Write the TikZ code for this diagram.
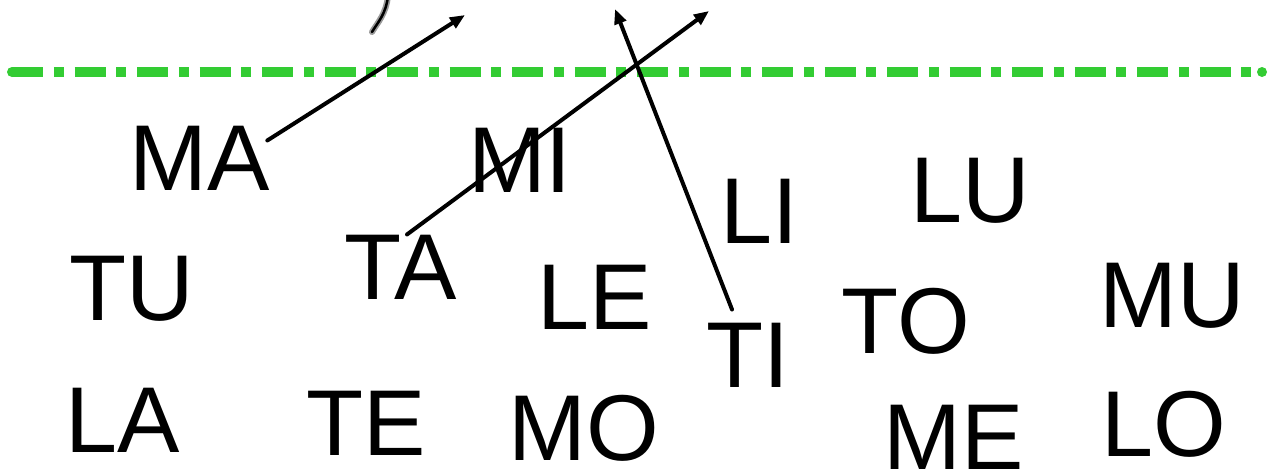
\documentclass[tikz,border=0pt]{standalone}
\usepackage{fontspec}
\setmainfont{Liberation Sans}
\usetikzlibrary{arrows.meta,calc}
\definecolor{guidegreen}{HTML}{33CC33}
\definecolor{haze}{HTML}{9A9A9A}

\begin{document}
\begin{tikzpicture}[x=1pt,y=-1pt,
			syl/.style={inner sep=0pt,anchor=base,font=\fontsize{93.5}{93.5}\selectfont},
			arr/.style={-{Triangle[length=15pt,width=12pt]},line width=4pt,line cap=round},
			guide/.style={guidegreen,line width=10pt,dash pattern=on 31pt off 10.75pt on 10pt off 10.75pt}
			]
			\useasboundingbox (0,0) rectangle (1278,471);
			% dash-dot guide line
			\draw[guide] (12,72) -- (1262,72);
			\fill[guidegreen] (12,72) circle (5pt) (1262,72) circle (5pt);
			% stroke cut off at the top
			\draw[haze,line width=6pt,line cap=round] (388,-4) .. controls (386,14) and (378,22) .. (372,32);
			\draw[line width=2.5pt,line cap=round] (388,-4) .. controls (386,14) and (378,22) .. (372,32);
			% syllables
			\node[syl] (MA) at (200,190) {MA};
			\node[syl] (MI) at (520,192) {MI};
			\node[syl] (LI) at (759,243) {LI};
			\node[syl] (LU) at (970,222) {LU};
			\node[syl] (TU) at (132,320) {TU};
			\node[syl] (TA) at (401,299) {TA};
			\node[syl] (LE) at (595,329) {LE};
			\node[syl] (TI) at (748,387) {TI};
			\node[syl] (TO) at (906,353) {TO};
			\node[syl] (MU) at (1172,327) {MU};
			\node[syl] (LA) at (123,452) {LA};
			\node[syl] (TE) at (366,455) {TE};
			\node[syl] (MO) at (584,460) {MO};
			\node[syl] (ME) at (954,469) {ME};
			\node[syl] (LO) at (1164,456) {LO};
			% arrows
			\coordinate (maTip) at (465,15);
			\coordinate (taTip) at (709,11);
			\coordinate (tiTip) at (615,9);
			\draw[arr] ([xshift=-3pt,yshift=-15pt]MA.north east) -- (maTip);
			\draw[arr] ([xshift=6pt]TA.north) -- (taTip);
			\draw[arr] ([xshift=-16pt,yshift=13pt]TI.north) -- (tiTip);
		\end{tikzpicture}
\end{document}
